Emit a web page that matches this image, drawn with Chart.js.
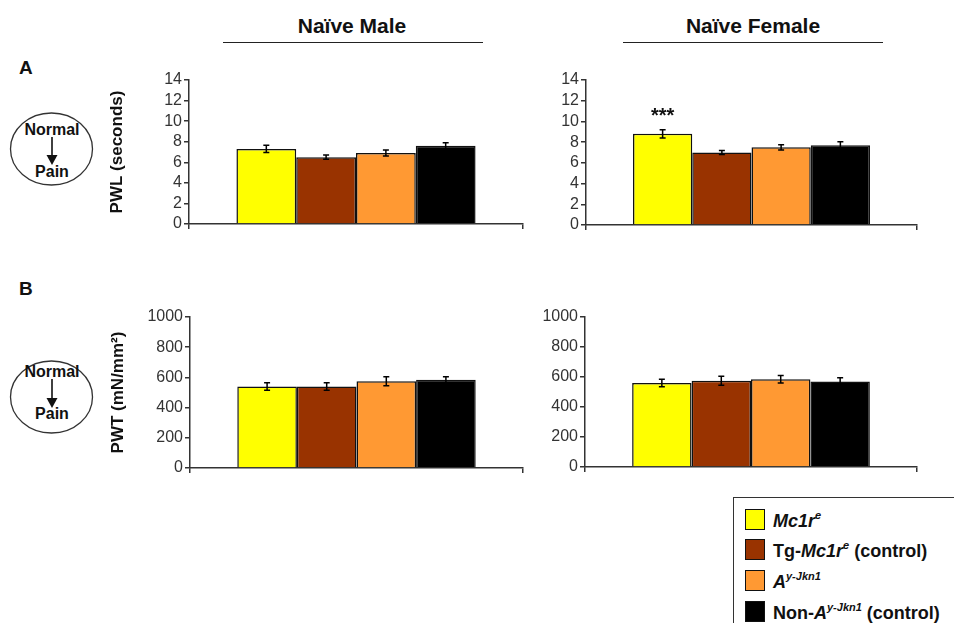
<!DOCTYPE html>
<html>
<head>
<meta charset="utf-8">
<script src="https://cdn.jsdelivr.net/npm/chart.js@4.4.0/dist/chart.umd.min.js"></script>
<style>
  body { margin: 0; background: #fff; font-family: Arial, "Liberation Sans", sans-serif; }
  #page { position: relative; width: 954px; height: 623px; overflow: hidden; }
  canvas { position: absolute; }
  .head { position: absolute; font-weight: bold; font-size: 21px; color: #111; transform: translateX(-50%); white-space: nowrap; }
  .rule { position: absolute; height: 0; border-top: 1.5px solid #222; }
  .letter { position: absolute; font-weight: bold; font-size: 19px; color: #111; }
  svg { position: absolute; left: 0; }
  #legend { position: absolute; left: 733px; top: 497px; width: 240px; height: 140px;
    border-left: 1.5px solid #333; border-top: 1.5px solid #333; }
  .item { position: absolute; left: 11px; height: 21px; }
  .swatch { position: absolute; left: 0; top: 0; width: 18px; height: 19px; border: 1.2px solid #111; }
  .lab { position: absolute; left: 28px; top: 0px; white-space: nowrap; font-weight: bold; font-size: 18px; color: #111; }
  .lab sup { font-size: 11px; vertical-align: 8px; }
</style>
</head>
<body>
<div id="page">
  <div class="head" style="left:352px; top:14px;">Naïve Male</div>
  <div class="rule" style="left:223px; top:42px; width:260px;"></div>
  <div class="head" style="left:753px; top:14px;">Naïve Female</div>
  <div class="rule" style="left:623px; top:42px; width:260px;"></div>
  <div class="letter" style="left:19px; top:57px;">A</div>
  <div class="letter" style="left:19px; top:278px;">B</div>

  <svg width="110" height="623" viewBox="0 0 110 623" font-family="Arial, sans-serif" font-weight="bold" font-size="16">
    <g>
      <ellipse cx="51.5" cy="149" rx="41" ry="36" fill="none" stroke="#333" stroke-width="1.3"/>
      <text x="52" y="135" text-anchor="middle" fill="#111">Normal</text>
      <line x1="52" y1="137" x2="52" y2="157" stroke="#111" stroke-width="1.6"/>
      <polygon points="46.5,155 57.5,155 52,165" fill="#111"/>
      <text x="52" y="177" text-anchor="middle" fill="#111">Pain</text>
    </g>
    <g transform="translate(0,248)">
      <ellipse cx="51.5" cy="149" rx="41" ry="36" fill="none" stroke="#333" stroke-width="1.3"/>
      <text x="52" y="129" text-anchor="middle" fill="#111">Normal</text>
      <line x1="52" y1="131" x2="52" y2="152" stroke="#111" stroke-width="1.6"/>
      <polygon points="46.5,150 57.5,150 52,160" fill="#111"/>
      <text x="52" y="171" text-anchor="middle" fill="#111">Pain</text>
    </g>
  </svg>

  <canvas id="pwlMale"></canvas>
  <canvas id="pwlFemale"></canvas>
  <canvas id="pwtMale"></canvas>
  <canvas id="pwtFemale"></canvas>

  <div id="legend">
    <div class="item" style="top:11px;"><div class="swatch" style="background:#ffff00"></div>
      <div class="lab"><i>Mc1r</i><sup><i>e</i></sup></div></div>
    <div class="item" style="top:41px;"><div class="swatch" style="background:#993300"></div>
      <div class="lab">Tg-<i>Mc1r</i><sup><i>e</i></sup> (control)</div></div>
    <div class="item" style="top:72px;"><div class="swatch" style="background:#ff9933"></div>
      <div class="lab"><i>A</i><sup><i>y-Jkn1</i></sup></div></div>
    <div class="item" style="top:103px;"><div class="swatch" style="background:#000000"></div>
      <div class="lab">Non-<i>A</i><sup><i>y-Jkn1</i></sup> (control)</div></div>
  </div>
</div>

<script>
// Grupos (mismo orden que la leyenda)
const groups = ['Mc1re', 'Tg-Mc1re (control)', 'Ay-Jkn1', 'Non-Ay-Jkn1 (control)'];
const barColors = ['#ffff00', '#993300', '#ff9933', '#000000'];

// A: PWL (segundos)
const pwlMale = [7.3, 6.5, 6.9, 7.6];
const pwlMaleErr = [0.35, 0.2, 0.3, 0.3];
const pwlFemale = [8.8, 7.0, 7.5, 7.7];
const pwlFemaleErr = [0.4, 0.2, 0.25, 0.35];
const pwlMax = 14, pwlStep = 2;

// B: PWT (mN/mm2)
const pwtMale = [540, 540, 575, 585];
const pwtMaleErr = [25, 25, 30, 20];
const pwtFemale = [560, 575, 585, 570];
const pwtFemaleErr = [25, 30, 25, 25];
const pwtMax = 1000, pwtStep = 200;

const Y_W = 82, PAD_T = 12, PAD_R = 8, X_H = 12;

// barras de error + asteriscos
const errorBars = {
  id: 'errorBars',
  afterDatasetsDraw(chart, args, opts) {
    const ctx = chart.ctx;
    const y = chart.scales.y;
    ctx.save();
    ctx.strokeStyle = '#000';
    ctx.lineWidth = 1.5;
    chart.data.datasets.forEach((ds, i) => {
      const bar = chart.getDatasetMeta(i).data[0];
      const v = ds.data[0], e = ds.errors[0];
      const yt = y.getPixelForValue(v + e), yb = y.getPixelForValue(v - e);
      ctx.beginPath();
      ctx.moveTo(bar.x, yt); ctx.lineTo(bar.x, yb);
      ctx.moveTo(bar.x - 3, yt); ctx.lineTo(bar.x + 3, yt);
      ctx.moveTo(bar.x - 3, yb); ctx.lineTo(bar.x + 3, yb);
      ctx.stroke();
      if (opts.stars && opts.stars.index === i) {
        ctx.fillStyle = '#111';
        ctx.font = 'bold 20px Arial';
        ctx.textAlign = 'center';
        ctx.textBaseline = 'middle';
        ctx.fillText(opts.stars.text, bar.x, yt - 13);
      }
    });
    ctx.restore();
  }
};

function makeChart(id, area, values, errors, yMax, yStep, yTitle, stars) {
  const cv = document.getElementById(id);
  const w = area.right - area.left + Y_W + PAD_R;
  const h = area.bottom - area.top + PAD_T + X_H;
  cv.width = w; cv.height = h;
  cv.style.left = (area.left - Y_W) + 'px';
  cv.style.top = (area.top - PAD_T) + 'px';
  cv.style.width = w + 'px'; cv.style.height = h + 'px';

  return new Chart(cv.getContext('2d'), {
    type: 'bar',
    data: {
      labels: [''],
      datasets: groups.map((g, i) => ({
        label: g,
        data: [values[i]],
        errors: [errors[i]],
        backgroundColor: barColors[i],
        borderColor: '#111',
        borderWidth: 1.5,
        barPercentage: 1,
        categoryPercentage: 0.716
      }))
    },
    options: {
      responsive: false,
      animation: false,
      devicePixelRatio: 1,
      layout: { padding: { top: PAD_T, right: PAD_R, left: 0, bottom: 0 } },
      plugins: {
        legend: { display: false },
        tooltip: { enabled: false },
        errorBars: { stars: stars }
      },
      scales: {
        x: {
          grid: { drawOnChartArea: false, drawTicks: true, tickLength: 5, color: '#333', lineWidth: 1.5, offset: true },
          border: { color: '#333', width: 1.5 },
          ticks: { display: false },
          afterFit: s => { s.height = X_H; }
        },
        y: {
          min: 0, max: yMax,
          ticks: { stepSize: yStep, autoSkip: false, color: '#333', padding: 2,
                   font: { family: 'Arial', size: 16 }, callback: v => String(v) },
          grid: { drawOnChartArea: false, tickLength: 5, color: '#333', lineWidth: 1.5 },
          border: { color: '#333', width: 1.5 },
          title: { display: !!yTitle, text: yTitle, color: '#111', padding: 0,
                   font: { family: 'Arial', size: 17, weight: 'bold' } },
          afterFit: s => { s.width = Y_W; }
        }
      }
    },
    plugins: [errorBars]
  });
}

makeChart('pwlMale', { left: 189, top: 80, right: 523, bottom: 224 }, pwlMale, pwlMaleErr, pwlMax, pwlStep, 'PWL (seconds)');
makeChart('pwlFemale', { left: 586, top: 80, right: 917, bottom: 225 }, pwlFemale, pwlFemaleErr, pwlMax, pwlStep, '', { index: 0, text: '***' });
makeChart('pwtMale', { left: 190, top: 317, right: 523, bottom: 468 }, pwtMale, pwtMaleErr, pwtMax, pwtStep, 'PWT (mN/mm²)');
makeChart('pwtFemale', { left: 585, top: 317, right: 917, bottom: 467 }, pwtFemale, pwtFemaleErr, pwtMax, pwtStep, '');
</script>
</body>
</html>
